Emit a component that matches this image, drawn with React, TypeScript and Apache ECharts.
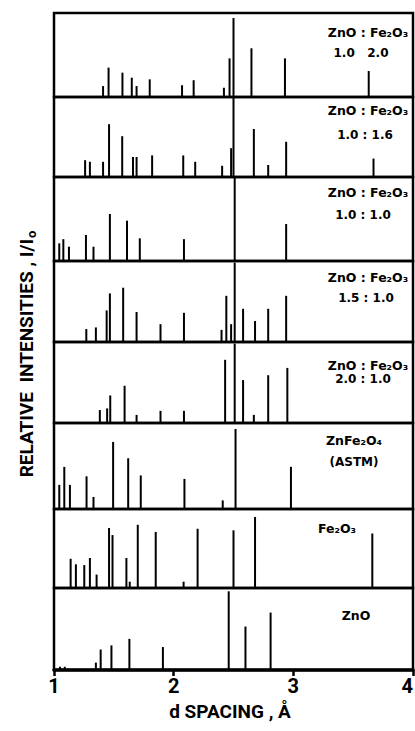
import React, { useEffect, useRef } from "react";
import * as echarts from "echarts";

// ---- data (d spacing in Å, relative intensity in %) ----
const xTicks = [1, 2, 3, 4];

const panelNames = [
  "ZnO : Fe₂O₃",
  "ZnO : Fe₂O₃",
  "ZnO : Fe₂O₃",
  "ZnO : Fe₂O₃",
  "ZnO : Fe₂O₃",
  "ZnFe₂O₄",
  "Fe₂O₃",
  "ZnO",
];
const panelRatios = ["1.0   2.0", "1.0 : 1.6", "1.0 : 1.0", "1.5 : 1.0", "2.0 : 1.0", "(ASTM)", "", ""];

const dMix1020 = [1.41, 1.456, 1.572, 1.65, 1.69, 1.8, 2.07, 2.167, 2.42, 2.467, 2.5, 2.65, 2.93, 3.63];
const iMix1020 = [13, 35, 29, 23, 13, 21, 14, 20, 11, 46, 94, 58, 46, 31];

const dMix1016 = [1.26, 1.3, 1.41, 1.46, 1.57, 1.66, 1.69, 1.82, 2.08, 2.18, 2.405, 2.48, 2.5, 2.67, 2.79, 2.94, 3.67];
const iMix1016 = [21, 19, 19, 66, 51, 25, 25, 27, 27, 19, 14, 36, 100, 60, 15, 44, 23];

const dMix1010 = [1.044, 1.078, 1.125, 1.267, 1.33, 1.467, 1.61, 1.717, 2.086, 2.51, 2.94];
const iMix1010 = [21, 26, 17, 31, 17, 56, 48, 27, 26, 100, 44];

const dMix1510 = [1.27, 1.35, 1.44, 1.467, 1.578, 1.69, 1.89, 2.086, 2.4, 2.44, 2.48, 2.51, 2.58, 2.68, 2.79, 2.94];
const iMix1510 = [16, 18, 39, 60, 67, 37, 22, 36, 15, 57, 22, 98, 41, 26, 41, 57];

const dMix2010 = [1.383, 1.444, 1.47, 1.59, 1.69, 1.89, 2.086, 2.43, 2.51, 2.58, 2.67, 2.79, 2.95];
const iMix2010 = [16, 18, 34, 46, 10, 15, 15, 78, 98, 53, 10, 59, 68];

const dZnFe2O4 = [1.044, 1.086, 1.133, 1.272, 1.33, 1.494, 1.62, 1.725, 2.09, 2.41, 2.517, 2.98];
const iZnFe2O4 = [28, 49, 28, 38, 14, 78, 59, 39, 35, 10, 93, 49];

const dFe2O3 = [1.139, 1.183, 1.253, 1.3, 1.356, 1.46, 1.489, 1.605, 1.633, 1.7, 1.85, 2.083, 2.2, 2.5, 2.68, 3.66];
const iFe2O3 = [37, 30, 29, 38, 17, 76, 67, 38, 8, 80, 71, 8, 75, 73, 90, 69];

const dZnO = [1.05, 1.09, 1.35, 1.39, 1.48, 1.63, 1.91, 2.46, 2.6, 2.81];
const iZnO = [4, 4, 9, 25, 30, 38, 28, 96, 53, 70];

const panelD = [dMix1020, dMix1016, dMix1010, dMix1510, dMix2010, dZnFe2O4, dFe2O3, dZnO];
const panelI = [iMix1020, iMix1016, iMix1010, iMix1510, iMix2010, iZnFe2O4, iFe2O3, iZnO];

// ---- layout ----
const W = 415;
const H = 731;
const edges = [13, 97, 177, 261, 342, 423, 509, 588, 670];
const FONT = "DejaVu Sans";
const AXFONT = "Roboto";

export default function App() {
  const ref = useRef<HTMLDivElement>(null);

  useEffect(() => {
    if (!ref.current) return;
    const chart = echarts.init(ref.current, undefined, { renderer: "svg" });
    const n = panelD.length;

    const grids: any[] = [];
    const xAxes: any[] = [];
    const yAxes: any[] = [];
    const series: any[] = [];
    for (let i = 0; i < n; i++) {
      grids.push({
        left: 54,
        right: W - 413,
        top: edges[i],
        height: edges[i + 1] - edges[i],
        outerBoundsMode: "none",
        containLabel: false,
        show: true,
        borderColor: "#000",
        borderWidth: 2.5,
        backgroundColor: "transparent",
      });
      const last = i === n - 1;
      xAxes.push({
        type: "value",
        gridIndex: i,
        min: xTicks[0],
        max: xTicks[xTicks.length - 1],
        interval: 1,
        show: last,
        axisLine: { show: true, lineStyle: { color: "#000", width: 3.5 } },
        axisTick: { show: true, length: 6, lineStyle: { color: "#000", width: 2.5 } },
        axisLabel: {
          show: true,
          color: "#000",
          fontSize: 20,
          fontWeight: "bold",
          fontFamily: AXFONT,
          margin: 6,
          showMaxLabel: true,
          showMinLabel: true,
          alignMaxLabel: "right",
        },
        splitLine: { show: false },
      });
      yAxes.push({ type: "value", gridIndex: i, min: 0, max: 100, show: false });
      series.push({
        type: "custom",
        xAxisIndex: i,
        yAxisIndex: i,
        silent: true,
        clip: true,
        data: panelD[i].map((d, j) => [d, panelI[i][j]]),
        renderItem: (params: any, api: any) => {
          const top = api.coord([api.value(0), api.value(1)]);
          const base = api.coord([api.value(0), 0]);
          return {
            type: "line",
            shape: { x1: top[0], y1: top[1], x2: base[0], y2: base[1] },
            style: { stroke: "#000", lineWidth: 2 },
          };
        },
      });
    }

    const graphics: any[] = [];
    const nameStyle = { fill: "#000", fontSize: 12.5, fontWeight: "bold", fontFamily: FONT, align: "center", verticalAlign: "middle" };
    const mixLine1Y = [32, 110, 192, 277, 365];
    const mixLine2Y = [53, 135, 215, 298, 379];
    const mixLine2X = [361, 365, 363, 366, 363];
    for (let i = 0; i < 5; i++) {
      graphics.push({ type: "text", x: 368, y: mixLine1Y[i], style: { ...nameStyle, text: panelNames[i] } });
      graphics.push({ type: "text", x: mixLine2X[i], y: mixLine2Y[i], style: { ...nameStyle, fontSize: 12, text: panelRatios[i] } });
    }
    graphics.push({ type: "text", x: 354, y: 440, style: { ...nameStyle, text: panelNames[5] } });
    graphics.push({ type: "text", x: 354, y: 462, style: { ...nameStyle, fontSize: 12, text: panelRatios[5] } });
    graphics.push({ type: "text", x: 337, y: 528, style: { ...nameStyle, text: panelNames[6] } });
    graphics.push({ type: "text", x: 356, y: 615, style: { ...nameStyle, text: panelNames[7] } });

    // y axis title
    graphics.push({
      type: "text",
      x: 26,
      y: 354,
      rotation: Math.PI / 2,
      style: {
        text: "{a|RELATIVE  INTENSITIES , I/I}{b|o}",
        align: "center",
        verticalAlign: "middle",
        rich: {
          a: { fill: "#000", fontSize: 19, fontWeight: "bold", fontFamily: AXFONT },
          b: { fill: "#000", fontSize: 13, fontWeight: "bold", fontFamily: AXFONT, padding: [10, 0, 0, 1] },
        },
      },
    });
    // x axis title
    graphics.push({
      type: "text",
      x: 230,
      y: 711,
      style: {
        text: "d SPACING , Å",
        fill: "#000",
        fontSize: 19,
        fontWeight: "bold",
        fontFamily: AXFONT,
        align: "center",
        verticalAlign: "middle",
      },
    });

    chart.setOption({
      animation: false,
      backgroundColor: "#fff",
      grid: grids,
      xAxis: xAxes,
      yAxis: yAxes,
      series,
      graphic: graphics,
    });

    return () => chart.dispose();
  }, []);

  return <div ref={ref} style={{ position: "fixed", left: 0, top: 0, width: W, height: H }} />;
}
